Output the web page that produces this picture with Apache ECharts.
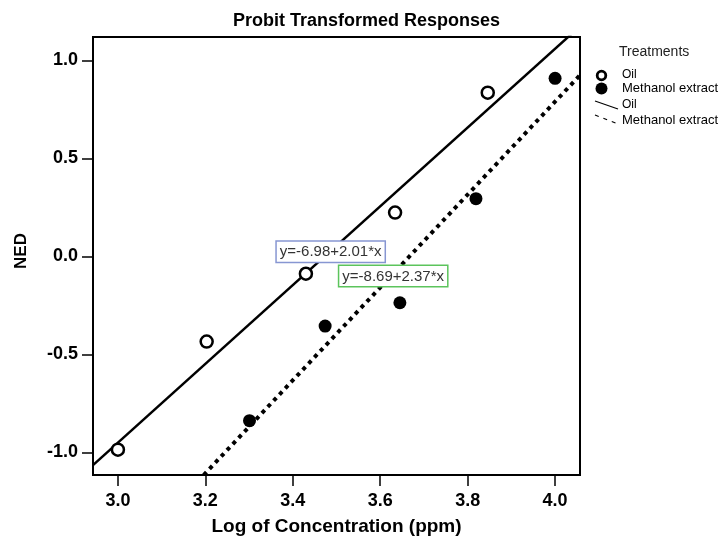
<!DOCTYPE html>
<html>
<head>
<meta charset="utf-8">
<script src="https://cdn.jsdelivr.net/npm/echarts@6/dist/echarts.min.js"></script>
<style>
html,body{margin:0;padding:0;background:#fff;}
#c{width:723px;height:541px;}
</style>
</head>
<body>
<div id="c"></div>
<script>
// ---- data ----
var oilX = [3.00, 3.203, 3.43, 3.634, 3.846];
var oilY = [-0.986, -0.434, -0.088, 0.224, 0.836];
var methX = [3.301, 3.474, 3.645, 3.819, 4.00];
var methY = [-0.838, -0.355, -0.236, 0.295, 0.909];
var fitNames = ['Oil', 'Methanol extract'];
var fitIntercepts = [-6.98, -8.69];
var fitSlopes = [2.01, 2.37];
var xTicks = [3.0, 3.2, 3.4, 3.6, 3.8, 4.0];
var yTicks = [-1.0, -0.5, 0.0, 0.5, 1.0];
var xRange = [2.943, 4.057];
var yRange = [-1.115, 1.12];
var eqAnchors = [[3.36, 0.083], [3.503, -0.041]];

function pairs(xs, ys) { return xs.map(function (x, i) { return [x, ys[i]]; }); }
function fitLine(k) {
  return xRange.map(function (x) { return [x, fitIntercepts[k] + fitSlopes[k] * x]; });
}
function eqText(k) {
  return 'y=' + fitIntercepts[k].toFixed(2) + '+' + fitSlopes[k].toFixed(2) + '*x';
}

var FONT = 'Liberation Sans, Arial, sans-serif';
var chart = echarts.init(document.getElementById('c'), null, {renderer: 'canvas'});
var option = {
  animation: false,
  backgroundColor: '#fff',
  title: {
    text: 'Probit Transformed Responses',
    left: 233, top: 12, padding: 0,
    textStyle: {fontFamily: FONT, fontSize: 18, fontWeight: 'bold', color: '#000'}
  },
  grid: {left: 93, right: 143, top: 37, bottom: 65, show: true, borderColor: '#000', borderWidth: 2, backgroundColor: '#fff'},
  xAxis: {
    type: 'value', min: xRange[0], max: xRange[1],
    name: 'Log of Concentration (ppm)', nameLocation: 'middle', nameGap: 42,
    nameTextStyle: {fontFamily: FONT, fontSize: 19, fontWeight: 'bold', color: '#000'},
    axisLine: {show: true, onZero: false, lineStyle: {color: '#000', width: 2}},
    axisTick: {show: true, length: 11, customValues: xTicks, lineStyle: {color: '#000', width: 1.5}},
    axisLabel: {customValues: xTicks, margin: 17, fontFamily: FONT, fontSize: 18, fontWeight: 'bold', color: '#000',
      formatter: function (v) { return v.toFixed(1); }},
    splitLine: {show: false}
  },
  yAxis: {
    type: 'value', min: yRange[0], max: yRange[1],
    name: 'NED', nameLocation: 'middle', nameGap: 63, nameRotate: 90,
    nameTextStyle: {fontFamily: FONT, fontSize: 17, fontWeight: 'bold', color: '#000', padding: [0, 0, 0, 10]},
    axisLine: {show: true, onZero: false, lineStyle: {color: '#000', width: 2}},
    axisTick: {show: true, length: 11, customValues: yTicks, lineStyle: {color: '#000', width: 1.5}},
    axisLabel: {customValues: yTicks, margin: 15, fontFamily: FONT, fontSize: 18, fontWeight: 'bold', color: '#000',
      formatter: function (v) { return v.toFixed(1); }},
    splitLine: {show: false}
  },
  series: [
    {name: 'Oil fit', type: 'line', data: fitLine(0), symbol: 'none', clip: true,
      lineStyle: {color: '#000', width: 2.5, type: 'solid'}, z: 2},
    {name: 'Methanol fit', type: 'line', data: fitLine(1), symbol: 'none', clip: true,
      lineStyle: {color: '#000', width: 4, type: [4, 4.5]}, z: 2},
    {name: 'Oil', type: 'scatter', data: pairs(oilX, oilY), symbol: 'circle', symbolSize: 12,
      itemStyle: {color: '#fff', borderColor: '#000', borderWidth: 2.5, opacity: 1}, z: 3},
    {name: 'Methanol extract', type: 'scatter', data: pairs(methX, methY), symbol: 'circle', symbolSize: 13,
      itemStyle: {color: '#000', opacity: 1}, z: 3}
  ]
};
chart.setOption(option);

// equation boxes anchored in data coordinates
var boxColors = ['#8796d2', '#5cc45c'];
var graphics = [];
for (var k = 0; k < 2; k++) {
  var p = chart.convertToPixel({gridIndex: 0}, eqAnchors[k]);
  graphics.push({
    type: 'text', left: p[0], top: p[1], z: 10,
    style: {text: eqText(k), fontFamily: FONT, fontSize: 15, fill: '#333',
      backgroundColor: '#fff', borderColor: boxColors[k], borderWidth: 1.5, padding: [3, 3, 2, 3]}
  });
}
// legend
var LX = 601.5;
graphics.push(
  {type: 'text', left: 619, top: 45, style: {text: 'Treatments', fontFamily: FONT, fontSize: 14, fill: '#222'}},
  {type: 'circle', shape: {cx: LX, cy: 75.5, r: 4.3}, style: {fill: '#fff', stroke: '#000', lineWidth: 2.8}},
  {type: 'text', left: 622, top: 69, style: {text: 'Oil', fontFamily: FONT, fontSize: 12, fill: '#000'}},
  {type: 'circle', shape: {cx: LX, cy: 88.5, r: 6}, style: {fill: '#000'}},
  {type: 'text', left: 622, top: 82, style: {text: 'Methanol extract', fontFamily: FONT, fontSize: 13, fill: '#000'}},
  {type: 'line', shape: {x1: 595, y1: 101, x2: 618, y2: 109}, style: {stroke: '#000', lineWidth: 1.2}},
  {type: 'text', left: 622, top: 99, style: {text: 'Oil', fontFamily: FONT, fontSize: 12, fill: '#000'}},
  {type: 'line', shape: {x1: 595, y1: 115, x2: 618, y2: 124}, style: {stroke: '#000', lineWidth: 1.2, lineDash: [4, 5]}},
  {type: 'text', left: 622, top: 114, style: {text: 'Methanol extract', fontFamily: FONT, fontSize: 13, fill: '#000'}}
);
chart.setOption({graphic: graphics});
</script>
</body>
</html>
